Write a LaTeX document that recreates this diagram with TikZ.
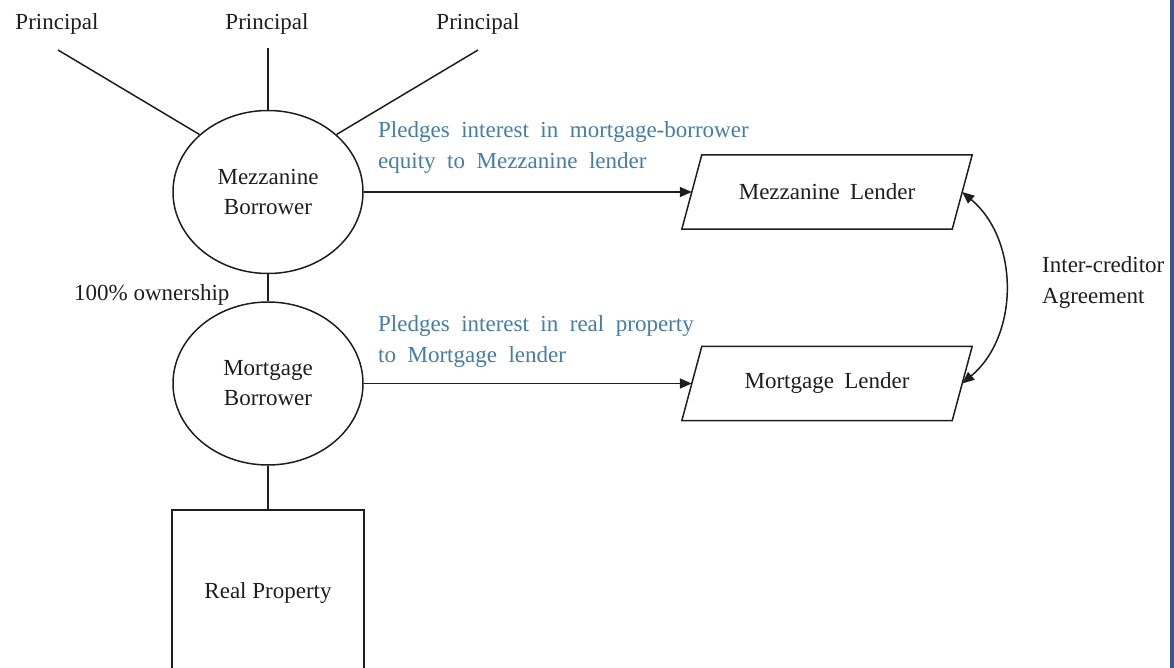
\documentclass[tikz,border=0pt]{standalone}
\usepackage{fontspec}
\setmainfont{Liberation Serif}
\usetikzlibrary{shapes.geometric,arrows.meta}
\definecolor{pledge}{RGB}{70,125,165}
\definecolor{barblue}{RGB}{56,84,148}
\definecolor{ink}{RGB}{30,30,30}
\newcommand\myWideSpaces{\spaceskip=11.5pt\relax}
\begin{document}
\begin{tikzpicture}[x=1pt,y=1pt, font=\fontsize{23}{30}\selectfont,
  line/.style={draw=ink, line width=1.5pt},
  party/.style={ellipse, draw=ink, line width=1.5pt, minimum width=190pt, minimum height=163pt, inner sep=0pt, align=center, text=ink},
  lender/.style={minimum width=270pt, minimum height=74pt, inner sep=0pt, text=ink},
  txt/.style={text=ink, inner sep=0pt},
  pledgetxt/.style={text=pledge, align=left, inner sep=0pt, font=\fontsize{23}{31}\selectfont\myWideSpaces},
  arr/.style={line, -{Triangle[length=12pt,width=10pt]}}
]
\useasboundingbox (0,0) rectangle (1174,-668);
\clip (0,0) rectangle (1174,-668);
\fill[white] (0,0) rectangle (1174,-668);
\fill[barblue] (1170,0) rectangle (1174,-668);

% principals
\node[txt, anchor=base] (p1) at (57,-30) {Principal};
\node[txt, anchor=base] (p2) at (267,-30) {Principal};
\node[txt, anchor=base] (p3) at (478,-30) {Principal};
\coordinate (t1) at (58,-50);
\coordinate (t2) at (268,-48);
\coordinate (t3) at (478,-50);

% borrowers
\node[party] (mzb) at (268,-192) {Mezzanine\\Borrower};
\node[party] (mgb) at (268,-383.5) {Mortgage\\Borrower};
\draw[line] (t1) -- (mzb.140);
\draw[line] (t2) -- (mzb.north);
\draw[line] (t3) -- (mzb.40);
\draw[line] (mzb.south) -- (mgb.north);
\node[txt, anchor=base west] (own) at (74,-300) {100\% ownership};

% real property
\node[draw=ink, line width=1.5pt, minimum width=192pt, minimum height=166pt, inner sep=0pt, text=ink] (rp) at (268,-593) {Real Property};
\draw[line] (mgb.south) -- (rp.north);

% lenders
\node[lender] (ml) at (827,-192) {Mezzanine\hspace{0.45em}Lender};
\draw[line] ([xshift=-10pt]ml.south west) -- ([xshift=10pt]ml.north west) -- ([xshift=10pt]ml.north east) -- ([xshift=-10pt]ml.south east) -- cycle;
\node[lender] (gl) at (827,-383.5) {Mortgage\hspace{0.45em}Lender};
\draw[line] ([xshift=-10pt]gl.south west) -- ([xshift=10pt]gl.north west) -- ([xshift=10pt]gl.north east) -- ([xshift=-10pt]gl.south east) -- cycle;

% pledge arrows
\draw[arr] (mzb.east) -- (ml.west);
\draw[arr] (mgb.east) -- (gl.west);
\node[pledgetxt, anchor=west] (pl1) at (378,-147.5) {Pledges interest in mortgage-borrower\\equity to Mezzanine lender};
\node[pledgetxt, anchor=west] (pl2) at (378,-341.5) {Pledges interest in real property\\to Mortgage lender};

% inter-creditor
\draw[line, {Triangle[length=12pt,width=10pt]}-{Triangle[length=12pt,width=10pt]}] (ml.east) to[out=-40, in=40] (gl.east);
\node[txt, anchor=west, align=left, font=\fontsize{23}{31}\selectfont] (ica) at (1042,-283) {Inter-creditor\\Agreement};
\end{tikzpicture}
\end{document}
